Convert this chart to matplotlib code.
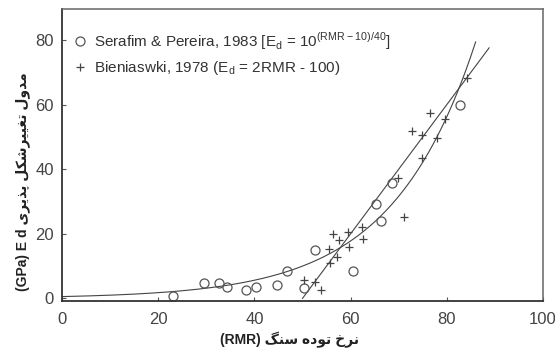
import numpy as np
import matplotlib
matplotlib.use('Agg')
import matplotlib.pyplot as plt

plt.rcParams['font.family'] = ['Liberation Sans', 'DejaVu Sans']

serafim_rmr = [23.1, 29.5, 32.6, 34.3, 38.3, 40.3, 44.7, 46.8, 50.3, 52.6, 60.5, 65.3, 66.3, 68.6, 82.7]
serafim_e = [0.8, 4.9, 4.9, 3.4, 2.5, 3.4, 4.0, 8.6, 3.1, 15.1, 8.6, 29.3, 24.1, 35.8, 59.9]

bien_rmr = [50.3, 52.6, 53.8, 55.5, 55.7, 56.3, 57.2, 57.6, 59.5, 59.7, 62.4, 62.6, 69.9, 71.1,
            72.8, 74.8, 74.8, 76.5, 78.0, 79.6, 84.2]
bien_e = [5.6, 5.2, 2.6, 15.4, 11.1, 19.8, 12.7, 18.2, 20.7, 16.0, 22.2, 18.5, 37.3, 25.3,
          51.9, 43.5, 50.6, 57.4, 49.7, 55.6, 68.2]

x_ticks = [0, 20, 40, 60, 80, 100]
y_ticks = [0, 20, 40, 60, 80]

xlabel_fa = 'نرخ توده سنگ'
ylabel_fa = 'مدول تغییرشکل پذیری'

# arabic presentation forms: isolated, final, initial, medial (None -> non joining to next)
FORMS = {
    'م': ('\uFEE1', '\uFEE2', '\uFEE3', '\uFEE4'),
    'د': ('\uFEA9', '\uFEAA', None, None),
    'و': ('\uFEED', '\uFEEE', None, None),
    'ل': ('\uFEDD', '\uFEDE', '\uFEDF', '\uFEE0'),
    'ت': ('\uFE95', '\uFE96', '\uFE97', '\uFE98'),
    'غ': ('\uFECD', '\uFECE', '\uFECF', '\uFED0'),
    'ی': ('\uFBFC', '\uFBFD', '\uFBFE', '\uFBFF'),
    'ر': ('\uFEAD', '\uFEAE', None, None),
    'ش': ('\uFEB5', '\uFEB6', '\uFEB7', '\uFEB8'),
    'ک': ('\uFB8E', '\uFB8F', '\uFB90', '\uFB91'),
    'پ': ('\uFB56', '\uFB57', '\uFB58', '\uFB59'),
    'ذ': ('\uFEAB', '\uFEAC', None, None),
    'ن': ('\uFEE5', '\uFEE6', '\uFEE7', '\uFEE8'),
    'خ': ('\uFEA5', '\uFEA6', '\uFEA7', '\uFEA8'),
    'ه': ('\uFEE9', '\uFEEA', '\uFEEB', '\uFEEC'),
    'س': ('\uFEB1', '\uFEB2', '\uFEB3', '\uFEB4'),
    'گ': ('\uFB92', '\uFB93', '\uFB94', '\uFB95'),
}


def dual(c):
    return c in FORMS and FORMS[c][2] is not None


def persian(text):
    out = []
    for i, c in enumerate(text):
        if c not in FORMS:
            out.append(c)
            continue
        prev_j = i > 0 and dual(text[i - 1])
        next_j = dual(c) and i + 1 < len(text) and text[i + 1] in FORMS
        f = FORMS[c]
        if prev_j and next_j:
            out.append(f[3])
        elif prev_j:
            out.append(f[1])
        elif next_j:
            out.append(f[2])
        else:
            out.append(f[0])
    return ''.join(reversed(out))


fig = plt.figure(figsize=(5.55, 3.51), dpi=100)
ax = fig.add_axes([0.1117, 0.1425, 0.8666, 0.8315])

rr = np.linspace(0, 86, 300)
ax.plot(rr, 10 ** ((rr - 10) / 40), color='#444444', lw=0.8)
rb = np.linspace(50, 88.8, 50)
ax.plot(rb, 2 * rb - 100, color='#444444', lw=0.8)

ax.plot(serafim_rmr, serafim_e, 'o', mfc='none', mec='#555555', ms=6.5, mew=0.9,
        label='Serafim & Pereira, 1983 [E$_\\mathregular{d}$ = 10$^\\mathregular{(RMR-10)/40}$]')
ax.plot(bien_rmr, bien_e, '+', color='#444444', ms=6, mew=0.9,
        label='Bieniaswki, 1978 (E$_\\mathregular{d}$ = 2RMR - 100)')

ax.set_xlim(0, 100)
ax.set_ylim(-0.8, 89.6)
ax.set_xticks(x_ticks)
ax.set_yticks(y_ticks)
ax.tick_params(direction='in', labelsize=12, length=3, colors='#555555', labelcolor='#444444')
ax.tick_params(axis='x', pad=8)
ax.tick_params(axis='y', pad=6)

for s in ['left', 'bottom']:
    ax.spines[s].set_linewidth(1.3)
    ax.spines[s].set_color('#333333')
for s in ['top', 'right']:
    ax.spines[s].set_linewidth(1.1)
    ax.spines[s].set_color('#666666')

leg = ax.legend(loc='upper left', frameon=False, fontsize=11, handletextpad=0.4,
                handlelength=1.0, borderaxespad=0.3, labelspacing=0.5,
                bbox_to_anchor=(0.0, 0.965))
for t in leg.get_texts():
    t.set_color('#333333')

ax.set_xlabel('(RMR) ' + persian(xlabel_fa), fontsize=10, fontweight='bold', color='#222222')
ax.xaxis.set_label_coords(0.474, -0.105)
ax.set_ylabel('(GPa) E d ' + persian(ylabel_fa), fontsize=10, fontweight='bold', color='#222222')
ax.yaxis.set_label_coords(-0.066, 0.41)

fig.savefig('out.png', dpi=100)
